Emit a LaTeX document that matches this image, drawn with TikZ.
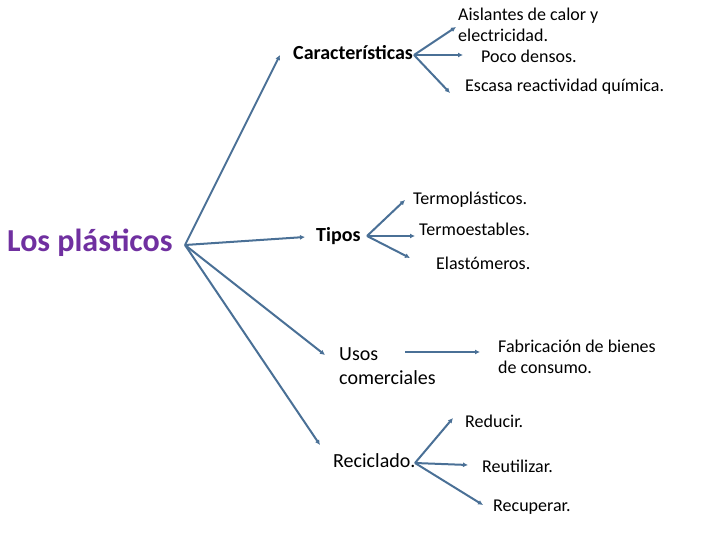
\documentclass[tikz,border=0pt]{standalone}
\usepackage{fontspec}
\setmainfont{Carlito}
\usetikzlibrary{arrows.meta}
\definecolor{linea}{RGB}{74,112,150}
\definecolor{morado}{RGB}{112,48,160}
\tikzset{
  rama/.style={draw=linea, line width=2pt, -{Latex[length=5pt,width=5pt]}},
  hoja/.style={anchor=west, inner sep=0pt, font=\fontsize{18}{21}\selectfont},
  tema/.style={anchor=west, inner sep=0pt, font=\fontsize{20}{24}\selectfont\bfseries}
}
\begin{document}
\begin{tikzpicture}[x=1pt,y=-1pt]
        \useasboundingbox (0,0) rectangle (720,540);
        % raiz y temas
        \node[anchor=west, inner sep=0pt, text=morado, font=\fontsize{32}{36}\selectfont\bfseries] (raiz) at (7,243) {Los plásticos};
        \coordinate (o) at (185,245);
        \node[tema] (car) at (293,53) {Características};
        \node[tema] (tip) at (316,236) {Tipos};
        \node[tema, align=left, font=\fontsize{20}{24}\selectfont] (uso) at (339,366) {Usos\\comerciales};
        \node[tema, font=\fontsize{20}{24}\selectfont] (rec) at (333,461) {Reciclado.};

        % hojas
        \node[hoja, align=left] (ais) at (458,25) {Aislantes de calor y\\electricidad.};
        \node[hoja] (poc) at (481,56) {Poco densos.};
        \node[hoja] (esc) at (465,87) {Escasa reactividad química.};
        \node[hoja] (tpl) at (413,200) {Termoplásticos.};
        \node[hoja] (tes) at (419,229) {Termoestables.};
        \node[hoja] (ela) at (436,263) {Elastómeros.};
        \node[hoja, align=left] (fab) at (498,357) {Fabricación de bienes\\de consumo.};
        \node[hoja] (red) at (465,421) {Reducir.};
        \node[hoja] (reu) at (482,466) {Reutilizar.};
        \node[hoja] (rcp) at (493,507) {Recuperar.};

        \draw[rama] (o) -- (280,55);
        \draw[rama] (o) -- (305,237);
        \draw[rama] (o) -- (325,355);
        \draw[rama] (o) -- (320,445);

        \draw[rama] (414,55) -- (456,27);
        \draw[rama] (414,55) -- (463,55);
        \draw[rama] (414,55) -- (450,93);

        \draw[rama] (367,236) -- (405,200);
        \draw[rama] (367,236) -- (415,236);
        \draw[rama] (367,236) -- (410,258);

        \draw[rama] (405,352) -- (480,352);

        \draw[rama] (415,463) -- (453,418);
        \draw[rama] (415,463) -- (468,465);
        \draw[rama] (415,463) -- (483,505);
\end{tikzpicture}
\end{document}
